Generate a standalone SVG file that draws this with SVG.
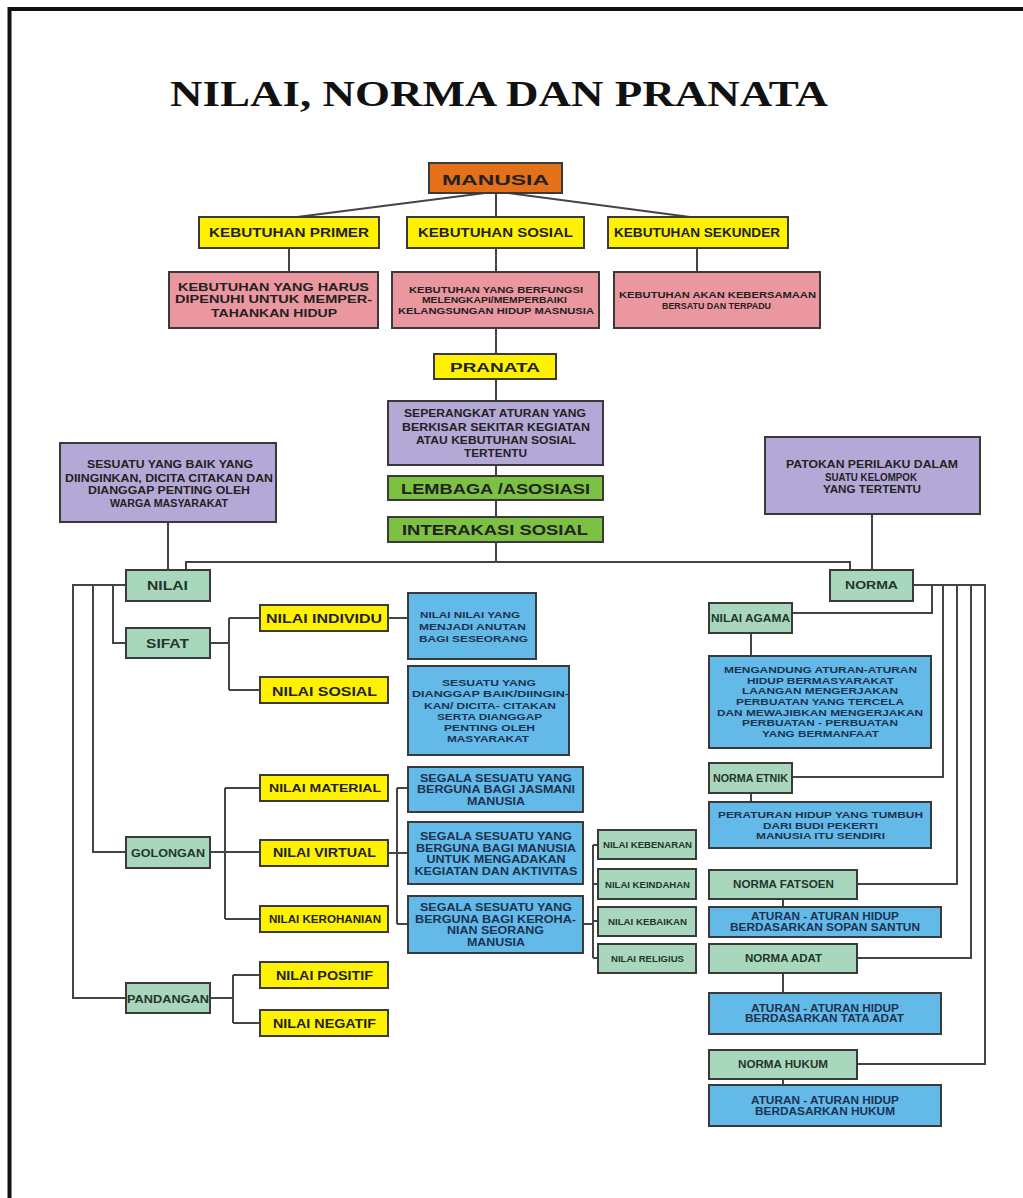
<svg xmlns="http://www.w3.org/2000/svg" width="1023" height="1198" viewBox="0 0 1023 1198">
<style>
.b{stroke:#3a3a3a;stroke-width:2}
.or{fill:#E5701A}.ye{fill:#FFF200}.pk{fill:#EA97A0}.pu{fill:#B4A8D6}.gr{fill:#7DC143}.mi{fill:#A9D7BE}.bl{fill:#63B9E8}
text{font-family:"Liberation Sans",Arial,sans-serif;font-weight:bold;text-anchor:middle;fill:#222}
.tb{fill:#1c3350}.tm{fill:#24352b}
.c{fill:none;stroke:#444;stroke-width:2}
.ttl{font-family:"Liberation Serif","Times New Roman",serif;font-size:36px;fill:#111}
</style>
<rect width="1023" height="1198" fill="#fff"/>
<path d="M9.5 1198V9H1023" fill="none" stroke="#111" stroke-width="4"/>
<text class="ttl" x="499" y="106" textLength="658" lengthAdjust="spacingAndGlyphs">NILAI, NORMA DAN PRANATA</text>

<g id="connectors" class="c">
<path d="M485 193L297 217M496 193V217M508 193L690 217"/>
<path d="M289 248V272M496 248V272M697 248V272"/>
<path d="M496 328V354M496 379V401M496 465V476M496 500V517M496 542V562"/>
<path d="M186 570V562H850V570M168 522V570M872 514V570"/>
<path d="M126 585H73V998H126M93 585V852H126M113 585V643H126"/>
<path d="M210 643H229M229 618V690M229 618H260M229 690H260M388 618H408"/>
<path d="M210 852H260M225 788V919M225 788H260M225 919H260"/>
<path d="M388 853H408M397 788V924M397 788H408M397 924H408"/>
<path d="M583 924H593M593 845V958M593 845H598M593 884H598M593 921H598M593 958H598"/>
<path d="M210 998H233M233 975V1023M233 975H260M233 1023H260"/>
<path d="M913 585H985V1064H857M932 585V613H792M943 585V777H792M957 585V884H857M971 585V958H857"/>
<path d="M751 633V656M751 793V802M783 899V907M783 973V993M783 1079V1085"/>
</g>

<g id="manusia"><rect class="b or" x="429" y="163" width="133" height="30"/><text x="495.5" y="185" font-size="15" textLength="107" lengthAdjust="spacingAndGlyphs">MANUSIA</text></g>

<g id="keb-primer"><rect class="b ye" x="199" y="217" width="180" height="31"/><text x="289" y="237" font-size="12" textLength="160" lengthAdjust="spacingAndGlyphs">KEBUTUHAN PRIMER</text></g>
<g id="keb-sosial"><rect class="b ye" x="407" y="217" width="177" height="31"/><text x="495.5" y="237" font-size="12" textLength="155" lengthAdjust="spacingAndGlyphs">KEBUTUHAN SOSIAL</text></g>
<g id="keb-sekunder"><rect class="b ye" x="608" y="217" width="180" height="31"/><text x="697" y="237" font-size="12" textLength="166" lengthAdjust="spacingAndGlyphs">KEBUTUHAN SEKUNDER</text></g>

<g id="def-primer"><rect class="b pk" x="169" y="272" width="209" height="56"/>
<text font-size="11.5"><tspan x="273.5" y="290.7" textLength="191" lengthAdjust="spacingAndGlyphs">KEBUTUHAN YANG HARUS</tspan><tspan x="273.5" y="303.3" textLength="197" lengthAdjust="spacingAndGlyphs">DIPENUHI UNTUK MEMPER-</tspan><tspan x="274" y="316.7" textLength="126" lengthAdjust="spacingAndGlyphs">TAHANKAN HIDUP</tspan></text></g>
<g id="def-sosial"><rect class="b pk" x="392" y="272" width="207" height="56"/>
<text font-size="9.5"><tspan x="496" y="292.5" textLength="174" lengthAdjust="spacingAndGlyphs">KEBUTUHAN YANG BERFUNGSI</tspan><tspan x="494.5" y="303" textLength="145" lengthAdjust="spacingAndGlyphs">MELENGKAPI/MEMPERBAIKI</tspan><tspan x="496" y="313.5" textLength="196" lengthAdjust="spacingAndGlyphs">KELANGSUNGAN HIDUP MASNUSIA</tspan></text></g>
<g id="def-sekunder"><rect class="b pk" x="614" y="272" width="206" height="56"/>
<text font-size="9.5"><tspan x="717.5" y="298" textLength="197" lengthAdjust="spacingAndGlyphs">KEBUTUHAN AKAN KEBERSAMAAN</tspan><tspan x="716.5" y="308.5" textLength="109" lengthAdjust="spacingAndGlyphs">BERSATU DAN TERPADU</tspan></text></g>

<g id="pranata"><rect class="b ye" x="434" y="354" width="122" height="25"/><text x="495" y="372" font-size="13" textLength="90" lengthAdjust="spacingAndGlyphs">PRANATA</text></g>
<g id="def-pranata"><rect class="b pu" x="388" y="401" width="215" height="64"/>
<text font-size="10"><tspan x="495" y="416.7" textLength="182" lengthAdjust="spacingAndGlyphs">SEPERANGKAT ATURAN YANG</tspan><tspan x="496" y="430.5" textLength="188" lengthAdjust="spacingAndGlyphs">BERKISAR SEKITAR KEGIATAN</tspan><tspan x="496" y="444" textLength="160" lengthAdjust="spacingAndGlyphs">ATAU KEBUTUHAN SOSIAL</tspan><tspan x="495.5" y="456.5" textLength="63" lengthAdjust="spacingAndGlyphs">TERTENTU</tspan></text></g>
<g id="lembaga"><rect class="b gr" x="388" y="476" width="215" height="24"/><text x="495.5" y="494" font-size="15" textLength="189" lengthAdjust="spacingAndGlyphs">LEMBAGA /ASOSIASI</text></g>
<g id="interaksi"><rect class="b gr" x="388" y="517" width="215" height="25"/><text x="495" y="535" font-size="15" textLength="186" lengthAdjust="spacingAndGlyphs">INTERAKASI SOSIAL</text></g>

<g id="def-nilai"><rect class="b pu" x="60" y="443" width="216" height="79"/>
<text font-size="10"><tspan x="170" y="468" textLength="166" lengthAdjust="spacingAndGlyphs">SESUATU YANG BAIK YANG</tspan><tspan x="169" y="481.5" textLength="208" lengthAdjust="spacingAndGlyphs">DIINGINKAN, DICITA CITAKAN DAN</tspan><tspan x="169" y="494" textLength="162" lengthAdjust="spacingAndGlyphs">DIANGGAP PENTING OLEH</tspan><tspan x="169" y="506.5" textLength="118" lengthAdjust="spacingAndGlyphs">WARGA MASYARAKAT</tspan></text></g>
<g id="def-norma"><rect class="b pu" x="765" y="437" width="215" height="77"/>
<text font-size="10"><tspan x="872" y="468" textLength="172" lengthAdjust="spacingAndGlyphs">PATOKAN PERILAKU DALAM</tspan><tspan x="871" y="480.5" textLength="92" lengthAdjust="spacingAndGlyphs">SUATU KELOMPOK</tspan><tspan x="872" y="493" textLength="98" lengthAdjust="spacingAndGlyphs">YANG TERTENTU</tspan></text></g>

<g id="nilai"><rect class="b mi" x="126" y="570" width="84" height="31"/><text class="tm" x="167.5" y="590" font-size="12" textLength="41" lengthAdjust="spacingAndGlyphs">NILAI</text></g>
<g id="sifat"><rect class="b mi" x="126" y="628" width="84" height="30"/><text class="tm" x="167.5" y="648" font-size="12" textLength="43" lengthAdjust="spacingAndGlyphs">SIFAT</text></g>
<g id="nilai-individu"><rect class="b ye" x="260" y="605" width="128" height="26"/><text x="324" y="623" font-size="12.5" textLength="116" lengthAdjust="spacingAndGlyphs">NILAI INDIVIDU</text></g>
<g id="nilai-sosial"><rect class="b ye" x="260" y="677" width="128" height="26"/><text x="324.5" y="696" font-size="12.5" textLength="105" lengthAdjust="spacingAndGlyphs">NILAI SOSIAL</text></g>
<g id="def-individu"><rect class="b bl" x="408" y="593" width="128" height="66"/>
<text class="tb" font-size="9.5"><tspan x="470" y="618.3" textLength="100" lengthAdjust="spacingAndGlyphs">NILAI NILAI YANG</tspan><tspan x="472.5" y="630" textLength="107" lengthAdjust="spacingAndGlyphs">MENJADI ANUTAN</tspan><tspan x="473.5" y="641.7" textLength="109" lengthAdjust="spacingAndGlyphs">BAGI SESEORANG</tspan></text></g>
<g id="def-sosial-nilai"><rect class="b bl" x="408" y="666" width="161" height="89"/>
<text class="tb" font-size="9.5"><tspan x="489" y="686" textLength="94" lengthAdjust="spacingAndGlyphs">SESUATU YANG</tspan><tspan x="490.5" y="697.3" textLength="157" lengthAdjust="spacingAndGlyphs">DIANGGAP BAIK/DIINGIN-</tspan><tspan x="490" y="709" textLength="132" lengthAdjust="spacingAndGlyphs">KAN/ DICITA- CITAKAN</tspan><tspan x="489.5" y="720" textLength="105" lengthAdjust="spacingAndGlyphs">SERTA DIANGGAP</tspan><tspan x="489.5" y="730.7" textLength="91" lengthAdjust="spacingAndGlyphs">PENTING OLEH</tspan><tspan x="488" y="742.3" textLength="82" lengthAdjust="spacingAndGlyphs">MASYARAKAT</tspan></text></g>

<g id="golongan"><rect class="b mi" x="126" y="837" width="84" height="31"/><text class="tm" x="168" y="857.3" font-size="11.5" textLength="74" lengthAdjust="spacingAndGlyphs">GOLONGAN</text></g>
<g id="nilai-material"><rect class="b ye" x="260" y="775" width="128" height="26"/><text x="325" y="792.3" font-size="11.5" textLength="112" lengthAdjust="spacingAndGlyphs">NILAI MATERIAL</text></g>
<g id="nilai-virtual"><rect class="b ye" x="260" y="840" width="128" height="26"/><text x="324.5" y="857" font-size="12" textLength="103" lengthAdjust="spacingAndGlyphs">NILAI VIRTUAL</text></g>
<g id="nilai-kerohanian"><rect class="b ye" x="260" y="906" width="128" height="26"/><text x="325" y="923.3" font-size="10.5" textLength="112" lengthAdjust="spacingAndGlyphs">NILAI KEROHANIAN</text></g>
<g id="def-material"><rect class="b bl" x="408" y="767" width="175" height="45"/>
<text class="tb" font-size="10.5"><tspan x="496" y="781.7" textLength="152" lengthAdjust="spacingAndGlyphs">SEGALA SESUATU YANG</tspan><tspan x="496" y="793.3" textLength="158" lengthAdjust="spacingAndGlyphs">BERGUNA BAGI JASMANI</tspan><tspan x="496" y="805" textLength="58" lengthAdjust="spacingAndGlyphs">MANUSIA</tspan></text></g>
<g id="def-virtual"><rect class="b bl" x="408" y="822" width="175" height="62"/>
<text class="tb" font-size="10.5"><tspan x="496" y="840" textLength="152" lengthAdjust="spacingAndGlyphs">SEGALA SESUATU YANG</tspan><tspan x="496" y="851.7" textLength="160" lengthAdjust="spacingAndGlyphs">BERGUNA BAGI MANUSIA</tspan><tspan x="496" y="863.3" textLength="139" lengthAdjust="spacingAndGlyphs">UNTUK MENGADAKAN</tspan><tspan x="496" y="875" textLength="163" lengthAdjust="spacingAndGlyphs">KEGIATAN DAN AKTIVITAS</tspan></text></g>
<g id="def-kerohanian"><rect class="b bl" x="408" y="896" width="175" height="57"/>
<text class="tb" font-size="10.5"><tspan x="496" y="910.7" textLength="152" lengthAdjust="spacingAndGlyphs">SEGALA SESUATU YANG</tspan><tspan x="495.5" y="922.7" textLength="161" lengthAdjust="spacingAndGlyphs">BERGUNA BAGI KEROHA-</tspan><tspan x="495.5" y="934" textLength="97" lengthAdjust="spacingAndGlyphs">NIAN SEORANG</tspan><tspan x="496" y="945.7" textLength="58" lengthAdjust="spacingAndGlyphs">MANUSIA</tspan></text></g>
<g id="nilai-kebenaran"><rect class="b mi" x="598" y="830" width="98" height="29"/><text class="tm" x="647.5" y="848.3" font-size="9" textLength="89" lengthAdjust="spacingAndGlyphs">NILAI KEBENARAN</text></g>
<g id="nilai-keindahan"><rect class="b mi" x="598" y="869" width="98" height="30"/><text class="tm" x="647.5" y="887.7" font-size="9" textLength="85" lengthAdjust="spacingAndGlyphs">NILAI KEINDAHAN</text></g>
<g id="nilai-kebaikan"><rect class="b mi" x="598" y="907" width="98" height="29"/><text class="tm" x="647.5" y="925" font-size="9" textLength="79" lengthAdjust="spacingAndGlyphs">NILAI KEBAIKAN</text></g>
<g id="nilai-religius"><rect class="b mi" x="598" y="944" width="98" height="29"/><text class="tm" x="647.5" y="962.3" font-size="9" textLength="73" lengthAdjust="spacingAndGlyphs">NILAI RELIGIUS</text></g>

<g id="pandangan"><rect class="b mi" x="126" y="983" width="84" height="30"/><text class="tm" x="168" y="1002.7" font-size="11.5" textLength="82" lengthAdjust="spacingAndGlyphs">PANDANGAN</text></g>
<g id="nilai-positif"><rect class="b ye" x="260" y="962" width="128" height="26"/><text x="324.5" y="980" font-size="12" textLength="97" lengthAdjust="spacingAndGlyphs">NILAI POSITIF</text></g>
<g id="nilai-negatif"><rect class="b ye" x="260" y="1010" width="128" height="26"/><text x="324.5" y="1028.3" font-size="12" textLength="103" lengthAdjust="spacingAndGlyphs">NILAI NEGATIF</text></g>

<g id="norma"><rect class="b mi" x="830" y="570" width="83" height="31"/><text class="tm" x="871.5" y="589.3" font-size="11.5" textLength="53" lengthAdjust="spacingAndGlyphs">NORMA</text></g>
<g id="nilai-agama"><rect class="b mi" x="709" y="603" width="83" height="30"/><text class="tm" x="750.5" y="622" font-size="10" textLength="79" lengthAdjust="spacingAndGlyphs">NILAI AGAMA</text></g>
<g id="def-agama"><rect class="b bl" x="709" y="656" width="222" height="92"/>
<text class="tb" font-size="9.5"><tspan x="820.5" y="673.3" textLength="193" lengthAdjust="spacingAndGlyphs">MENGANDUNG ATURAN-ATURAN</tspan><tspan x="820.5" y="684" textLength="147" lengthAdjust="spacingAndGlyphs">HIDUP BERMASYARAKAT</tspan><tspan x="820" y="694.3" textLength="156" lengthAdjust="spacingAndGlyphs">LAANGAN MENGERJAKAN</tspan><tspan x="820" y="705" textLength="168" lengthAdjust="spacingAndGlyphs">PERBUATAN YANG TERCELA</tspan><tspan x="820" y="715.7" textLength="206" lengthAdjust="spacingAndGlyphs">DAN MEWAJIBKAN MENGERJAKAN</tspan><tspan x="820" y="726.3" textLength="156" lengthAdjust="spacingAndGlyphs">PERBUATAN - PERBUATAN</tspan><tspan x="820.5" y="736.7" textLength="117" lengthAdjust="spacingAndGlyphs">YANG BERMANFAAT</tspan></text></g>
<g id="norma-etnik"><rect class="b mi" x="709" y="763" width="83" height="30"/><text class="tm" x="750.5" y="781.7" font-size="10" textLength="75" lengthAdjust="spacingAndGlyphs">NORMA ETNIK</text></g>
<g id="def-etnik"><rect class="b bl" x="709" y="802" width="222" height="46"/>
<text class="tb" font-size="9.5"><tspan x="820.5" y="818.3" textLength="205" lengthAdjust="spacingAndGlyphs">PERATURAN HIDUP YANG TUMBUH</tspan><tspan x="820.5" y="829" textLength="115" lengthAdjust="spacingAndGlyphs">DARI BUDI PEKERTI</tspan><tspan x="820.5" y="839.3" textLength="129" lengthAdjust="spacingAndGlyphs">MANUSIA ITU SENDIRI</tspan></text></g>
<g id="norma-fatsoen"><rect class="b mi" x="709" y="870" width="148" height="29"/><text class="tm" x="783.5" y="887.7" font-size="10" textLength="101" lengthAdjust="spacingAndGlyphs">NORMA FATSOEN</text></g>
<g id="def-fatsoen"><rect class="b bl" x="709" y="907" width="232" height="30"/>
<text class="tb" font-size="10"><tspan x="825" y="920" textLength="148" lengthAdjust="spacingAndGlyphs">ATURAN - ATURAN HIDUP</tspan><tspan x="825" y="930.7" textLength="190" lengthAdjust="spacingAndGlyphs">BERDASARKAN SOPAN SANTUN</tspan></text></g>
<g id="norma-adat"><rect class="b mi" x="709" y="944" width="148" height="29"/><text class="tm" x="783.5" y="962.3" font-size="10" textLength="77" lengthAdjust="spacingAndGlyphs">NORMA ADAT</text></g>
<g id="def-adat"><rect class="b bl" x="709" y="993" width="232" height="41"/>
<text class="tb" font-size="10"><tspan x="825" y="1011.7" textLength="148" lengthAdjust="spacingAndGlyphs">ATURAN - ATURAN HIDUP</tspan><tspan x="824.5" y="1022.3" textLength="159" lengthAdjust="spacingAndGlyphs">BERDASARKAN TATA ADAT</tspan></text></g>
<g id="norma-hukum"><rect class="b mi" x="709" y="1050" width="148" height="29"/><text class="tm" x="783" y="1068.3" font-size="10" textLength="90" lengthAdjust="spacingAndGlyphs">NORMA HUKUM</text></g>
<g id="def-hukum"><rect class="b bl" x="709" y="1085" width="232" height="41"/>
<text class="tb" font-size="10"><tspan x="825" y="1104" textLength="148" lengthAdjust="spacingAndGlyphs">ATURAN - ATURAN HIDUP</tspan><tspan x="825" y="1115" textLength="140" lengthAdjust="spacingAndGlyphs">BERDASARKAN HUKUM</tspan></text></g>
</svg>
